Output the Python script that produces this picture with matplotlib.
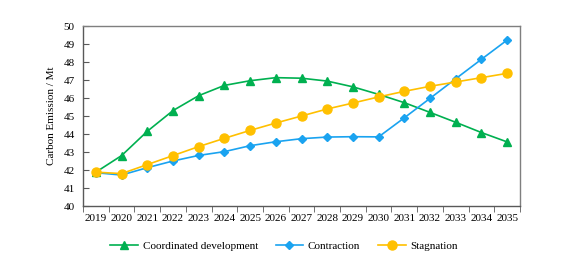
import numpy as np
import matplotlib.pyplot as plt

years = [str(y) for y in range(2019, 2036)]
coordinated = [41.88, 42.8, 44.15, 45.3, 46.13, 46.7, 46.96, 47.13, 47.1, 46.94,
               46.62, 46.2, 45.74, 45.2, 44.65, 44.08, 43.56]
contraction = [41.85, 41.72, 42.13, 42.5, 42.81, 43.02, 43.35, 43.57, 43.74, 43.83,
               43.85, 43.84, 44.9, 45.98, 47.07, 48.15, 49.22]
stagnation = [41.88, 41.8, 42.3, 42.8, 43.3, 43.76, 44.2, 44.61, 45.0, 45.39,
              45.72, 46.06, 46.37, 46.65, 46.89, 47.13, 47.37]

plt.rcParams['font.family'] = ['Liberation Serif', 'DejaVu Serif']

fig = plt.figure(figsize=(5.78, 2.69), dpi=100)
ax = fig.add_axes([83 / 578, 1 - 206 / 269, 437 / 578, 180 / 269])

x = np.arange(len(years))
ax.plot(x, coordinated, color='#00B050', marker='^', markersize=5.5, lw=1.2,
        label='Coordinated development')
ax.plot(x, contraction, color='#1AA3F0', marker='D', markersize=3.8, lw=1.2,
        label='Contraction')
ax.plot(x, stagnation, color='#FFC000', marker='o', markersize=6.5, lw=1.2,
        label='Stagnation')

ax.set_xlim(-0.5, len(years) - 0.5)
ax.set_ylim(40, 50)
ax.set_yticks(range(40, 51))
ax.set_xticks(x)
ax.set_xticklabels(years)
ax.set_xticks(np.arange(-0.5, len(years), 1.0), minor=True)
ax.tick_params(axis='x', which='major', length=0, pad=6, labelsize=8)
ax.tick_params(axis='x', which='minor', length=4, direction='out', color='#595959')
ax.tick_params(axis='y', length=4, direction='in', color='#595959', labelsize=8, pad=6)
for s in ax.spines.values():
    s.set_color('#7f7f7f')
    s.set_linewidth(1.0)
ax.spines['left'].set_color('#595959')
ax.spines['bottom'].set_color('#595959')

ax.set_ylabel('Carbon Emission / Mt', fontsize=8, labelpad=5)

fig.legend(loc='center', bbox_to_anchor=(284 / 578, 1 - 246 / 269), ncol=3,
           frameon=False, fontsize=8, handlelength=2.5, columnspacing=1.6,
           handletextpad=0.4)

fig.savefig('out.png', dpi=100)
